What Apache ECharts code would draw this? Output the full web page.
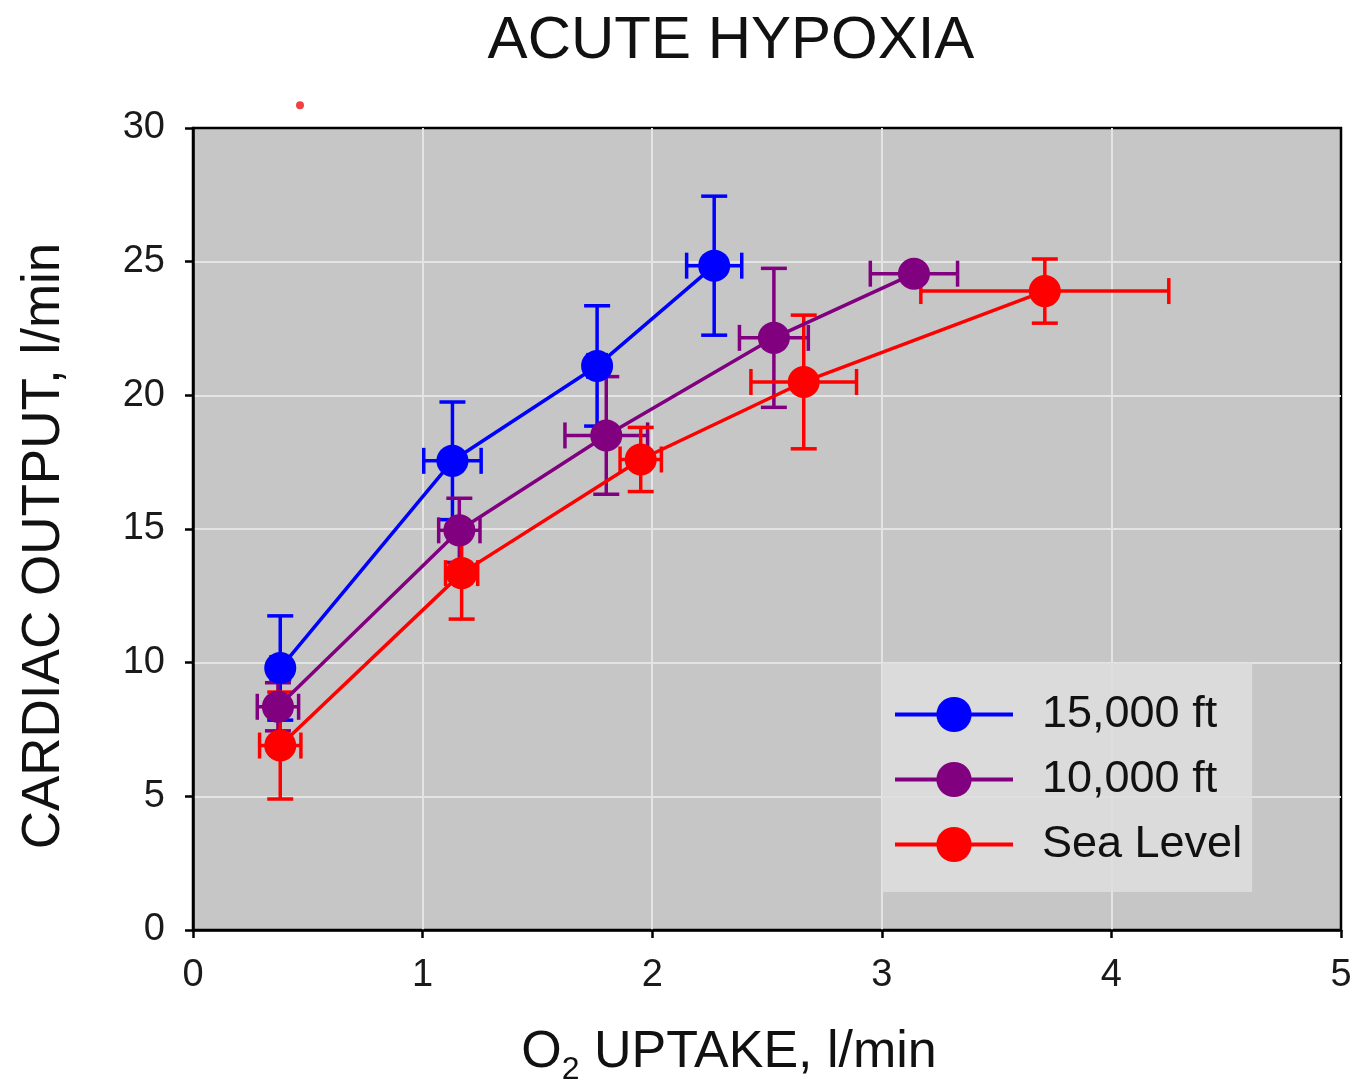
<!DOCTYPE html>
<html>
<head>
<meta charset="utf-8">
<script src="https://cdn.jsdelivr.net/npm/echarts@6/dist/echarts.min.js"></script>
<style>
  html, body { margin: 0; padding: 0; background: #fff; }
  #chart { width: 1361px; height: 1086px; }
</style>
</head>
<body>
<div id="chart"></div>
<script>
// [O2 uptake, cardiac output, x error, y error]
const ft15000 = [
  [0.38, 9.8, 0.04, 1.95],
  [1.13, 17.55, 0.125, 2.2],
  [1.76, 21.1, 0.04, 2.25],
  [2.27, 24.85, 0.12, 2.6]
];
const ft10000 = [
  [0.37, 8.35, 0.09, 0.9],
  [1.16, 14.95, 0.09, 1.2],
  [1.80, 18.5, 0.18, 2.2],
  [2.53, 22.15, 0.15, 2.6],
  [3.14, 24.55, 0.19, 0.1]
];
const seaLevel = [
  [0.38, 6.9, 0.09, 2.0],
  [1.17, 13.35, 0.07, 1.72],
  [1.95, 17.6, 0.09, 1.2],
  [2.66, 20.5, 0.23, 2.5],
  [3.71, 23.9, 0.54, 1.2]
];
const strayDot = [[0.466, 30.85]];
const seriesNames = ['15,000 ft', '10,000 ft', 'Sea Level'];
const seriesColors = ['#0000ff', '#800080', '#ff0000'];
const xTicks = [0, 1, 2, 3, 4, 5];
const yTicks = [0, 5, 10, 15, 20, 25, 30];

const FONT = 'Liberation Sans, Arial, sans-serif';
const chart = echarts.init(document.getElementById('chart'));

function errorBars(color) {
  return function (params, api) {
    const x = api.value(0), y = api.value(1), dx = api.value(2), dy = api.value(3);
    const l = api.coord([x - dx, y]), r = api.coord([x + dx, y]);
    const t = api.coord([x, y + dy]), b = api.coord([x, y - dy]);
    const cap = 13;
    const style = { stroke: color, lineWidth: 3.5 };
    const seg = (x1, y1, x2, y2) => ({ type: 'line', shape: { x1, y1, x2, y2 }, style });
    return {
      type: 'group',
      children: [
        seg(l[0], l[1], r[0], r[1]),
        seg(l[0], l[1] - cap, l[0], l[1] + cap),
        seg(r[0], r[1] - cap, r[0], r[1] + cap),
        seg(t[0], t[1], b[0], b[1]),
        seg(t[0] - cap, t[1], t[0] + cap, t[1]),
        seg(b[0] - cap, b[1], b[0] + cap, b[1])
      ]
    };
  };
}

const groups = [ft15000, ft10000, seaLevel];
const series = [];
groups.forEach((data, i) => {
  series.push({
    name: seriesNames[i] + ' err',
    type: 'custom',
    renderItem: errorBars(seriesColors[i]),
    data: data,
    silent: true
  });
  series.push({
    name: seriesNames[i],
    type: 'line',
    data: data.map(d => [d[0], d[1]]),
    symbol: 'circle',
    symbolSize: 32,
    color: seriesColors[i],
    lineStyle: { width: 3.5, color: seriesColors[i] },
    itemStyle: { color: seriesColors[i] }
  });
});
series.push({
  name: 'stray',
  type: 'scatter',
  data: strayDot,
  symbolSize: 8,
  clip: false,
  itemStyle: { color: '#ee1111' }
});

const tickFont = { fontFamily: FONT, fontSize: 38, color: '#1a1a1a' };

chart.setOption({
  animation: false,
  title: {
    text: 'ACUTE HYPOXIA',
    left: 726,
    textAlign: 'center',
    top: 6,
    textStyle: { fontFamily: FONT, fontSize: 60, fontWeight: 'normal', color: '#111' }
  },
  legend: {
    data: seriesNames,
    orient: 'vertical',
    left: 882,
    top: 663,
    padding: [29, 10, 25, 11],
    backgroundColor: 'rgba(222,222,222,0.85)',
    itemWidth: 118,
    itemHeight: 44,
    itemGap: 20,
    lineStyle: { width: 4 },
    textStyle: { fontFamily: FONT, fontSize: 45, lineHeight: 44, color: '#111', padding: [0, 0, 0, 24] }
  },
  grid: {
    left: 193, right: 20, top: 128, bottom: 156,
    outerBoundsMode: 'none',
    show: true,
    backgroundColor: '#c6c6c6',
    borderColor: '#000',
    borderWidth: 2.5
  },
  xAxis: {
    type: 'value',
    min: xTicks[0],
    max: xTicks[xTicks.length - 1],
    interval: 1,
    name: '{a|O}{s|2}{a| UPTAKE, l/min}',
    nameLocation: 'middle',
    nameGap: 90,
    nameTextStyle: {
      padding: [0, 76, 0, 0],
      rich: {
        a: { fontFamily: FONT, fontSize: 52, color: '#111' },
        s: { fontFamily: FONT, fontSize: 32, color: '#111', verticalAlign: 'bottom', padding: [34, 0, 0, 0] }
      }
    },
    axisLine: { show: true, lineStyle: { color: '#000', width: 2.5 } },
    axisTick: { show: true, length: 8, lineStyle: { color: '#000', width: 2.5 } },
    axisLabel: Object.assign({ margin: 27 }, tickFont),
    splitLine: { show: true, showMinLine: false, showMaxLine: false, lineStyle: { color: '#e4e4e4', width: 2 } }
  },
  yAxis: {
    type: 'value',
    min: yTicks[0],
    max: yTicks[yTicks.length - 1],
    interval: 5,
    name: 'CARDIAC OUTPUT, l/min',
    nameLocation: 'middle',
    nameGap: 122,
    nameTextStyle: { fontFamily: FONT, fontSize: 53, color: '#111', padding: [0, 34, 0, 0] },
    axisLine: { show: true, lineStyle: { color: '#000', width: 2.5 } },
    axisTick: { show: true, length: 8, lineStyle: { color: '#000', width: 2.5 } },
    axisLabel: Object.assign({ margin: 28 }, tickFont),
    splitLine: { show: true, showMinLine: false, showMaxLine: false, lineStyle: { color: '#e4e4e4', width: 2 } }
  },
  series: series
});
</script>
</body>
</html>
